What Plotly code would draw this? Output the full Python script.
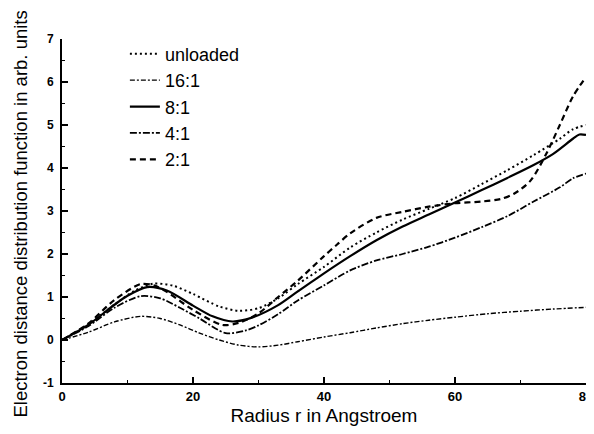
import plotly.graph_objects as go

# ---- data ----
r_unloaded = [0, 4, 8, 11, 14, 17, 20, 24, 27, 30, 33, 36, 40, 44, 48, 52, 56, 60, 64, 68, 72, 76, 78, 80]
v_unloaded = [0, 0.36, 0.82, 1.14, 1.31, 1.26, 1.07, 0.78, 0.68, 0.74, 0.97, 1.30, 1.70, 2.15, 2.50, 2.80, 3.05, 3.30, 3.62, 3.95, 4.30, 4.68, 4.90, 5.00]

r_16 = [0, 4, 8, 12, 15, 18, 21, 24, 27, 30, 33, 36, 40, 44, 48, 52, 56, 60, 65, 70, 75, 80]
v_16 = [0, 0.18, 0.42, 0.55, 0.50, 0.35, 0.16, 0.0, -0.12, -0.16, -0.12, -0.04, 0.07, 0.17, 0.28, 0.38, 0.46, 0.53, 0.61, 0.67, 0.72, 0.76]

r_8 = [0, 4, 8, 10, 13, 16, 20, 23, 26, 29, 33, 36, 40, 44, 48, 52, 56, 60, 64, 68, 72, 75, 78, 79, 80]
v_8 = [0, 0.35, 0.82, 1.03, 1.23, 1.15, 0.80, 0.55, 0.43, 0.52, 0.81, 1.13, 1.55, 1.95, 2.32, 2.64, 2.92, 3.20, 3.48, 3.77, 4.07, 4.33, 4.68, 4.78, 4.77]

r_4 = [0, 4, 8, 12, 15, 18, 21, 25, 28, 30, 33, 36, 40, 44, 48, 52, 56, 60, 64, 68, 72, 76, 78, 80]
v_4 = [0, 0.32, 0.75, 1.02, 0.97, 0.75, 0.50, 0.16, 0.22, 0.34, 0.60, 0.92, 1.27, 1.62, 1.85, 2.00, 2.17, 2.38, 2.62, 2.88, 3.22, 3.55, 3.76, 3.87]

r_2 = [0, 4, 8, 12, 14, 16, 20, 24.5, 27, 30, 33, 36, 40, 42, 44, 48, 52, 56, 60, 64, 67, 69, 71.5, 74, 76, 78, 80]
v_2 = [0, 0.38, 0.93, 1.30, 1.27, 1.12, 0.70, 0.35, 0.40, 0.62, 1.00, 1.38, 1.95, 2.22, 2.48, 2.84, 2.98, 3.10, 3.18, 3.22, 3.28, 3.40, 3.70, 4.35, 5.00, 5.66, 6.12]

series_names = ["unloaded", "16:1", "8:1", "4:1", "2:1"]

x_ticks = [0, 20, 40, 60, 80]
y_ticks = [-1, 0, 1, 2, 3, 4, 5, 6, 7]

x_title = "Radius r in Angstroem"
y_title = "Electron distance distribution function in arb. units"

FONT = "Liberation Sans, Arial, sans-serif"

styles = [
    dict(width=2, dash="2px,3px"),
    dict(width=1.4, dash="5px,2px,2px,2px"),
    dict(width=2.2, dash="solid"),
    dict(width=1.8, dash="7px,2px,2px,2px"),
    dict(width=2.2, dash="6px,4px"),
]

data = [(r_unloaded, v_unloaded), (r_16, v_16), (r_8, v_8), (r_4, v_4), (r_2, v_2)]

fig = go.Figure()
for (rx, vy), name, st in zip(data, series_names, styles):
    fig.add_trace(go.Scatter(
        x=rx, y=vy, name=name, mode="lines",
        line=dict(color="black", width=st["width"], dash=st["dash"], shape="spline", smoothing=0.8),
    ))

# the page body adds an 8px margin, so the figure is offset by 8px in the window
fig.update_layout(
    width=594, height=418,
    margin=dict(l=54, r=16, t=31, b=43, autoexpand=False),
    paper_bgcolor="white", plot_bgcolor="white",
    font=dict(family=FONT, color="black"),
    showlegend=True,
    legend=dict(
        x=0.12, y=1.01, xanchor="left", yanchor="top",
        font=dict(family=FONT, size=18, color="black"),
        bgcolor="rgba(0,0,0,0)", tracegroupgap=0,
    ),
    annotations=[dict(
        text=y_title, textangle=-90, xref="paper", yref="paper",
        x=-0.08, y=0.49, xanchor="center", yanchor="middle", showarrow=False,
        font=dict(family=FONT, size=18.5, color="black"),
    )],
)
fig.update_xaxes(
    range=[0, 80], tickvals=x_ticks, ticktext=[str(t) for t in x_ticks],
    automargin=False, ticklabeloverflow="allow",
    showline=True, linecolor="black", linewidth=2, mirror=False,
    ticks="inside", ticklen=6, tickwidth=1.5, tickcolor="black",
    minor=dict(ticks="inside", dtick=10, tick0=0, ticklen=3, tickwidth=1, tickcolor="black"),
    showgrid=False, zeroline=False,
    tickfont=dict(family=FONT, size=13, color="black", weight="bold"),
    title=dict(text=x_title, font=dict(family=FONT, size=19, color="black"), standoff=12),
)
fig.update_yaxes(
    range=[-1, 7], tickvals=y_ticks, ticktext=[str(t) for t in y_ticks],
    automargin=False,
    showline=True, linecolor="black", linewidth=2, mirror=False,
    ticks="inside", ticklen=6, tickwidth=1.5, tickcolor="black",
    minor=dict(ticks="inside", dtick=0.5, tick0=0, ticklen=3, tickwidth=1, tickcolor="black"),
    showgrid=False, zeroline=False,
    tickfont=dict(family=FONT, size=12, color="black", weight="bold"),
    ticklabelstandoff=4,
)

fig.write_html("out.html")
